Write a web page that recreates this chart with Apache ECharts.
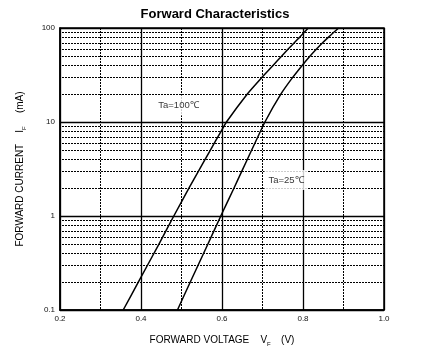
<!DOCTYPE html>
<html>
<head>
<meta charset="utf-8">
<script src="https://cdn.jsdelivr.net/npm/echarts@6/dist/echarts.min.js"></script>
<style>
html,body{margin:0;padding:0;background:#fff;}
#c{width:430px;height:358px;}
</style>
</head>
<body>
<div id="c"></div>
<script>
// Data (forward voltage V vs forward current mA)
const current = [0.1, 0.2, 0.5, 1, 2, 3, 5, 8, 10, 20, 30, 40, 50, 60, 70, 80, 90, 100];
const vf100 = [0.356, 0.394, 0.444, 0.481, 0.519, 0.542, 0.571, 0.598, 0.611, 0.663, 0.699, 0.726, 0.747, 0.764, 0.779, 0.792, 0.803, 0.813];
const current25 = [0.1, 0.2, 0.5, 1, 2, 3, 5, 10, 20, 30, 40, 50, 60, 70, 80, 90, 100];
const vf25 = [0.490, 0.522, 0.565, 0.597, 0.630, 0.649, 0.673, 0.706, 0.746, 0.775, 0.798, 0.817, 0.834, 0.849, 0.863, 0.876, 0.888];
const xTicks = ['0.2', '0.4', '0.6', '0.8', '1.0'];
const yTicks = ['0.1', '1', '10', '100'];
const minorY = [0.2, 0.3, 0.4, 0.5, 0.6, 0.7, 0.8, 0.9, 2, 3, 4, 5, 6, 7, 8, 9, 20, 30, 40, 50, 60, 70, 80, 90];
const labels = [
  {name: 'Ta=100℃', v: 0.4926, i: 15.0},
  {name: 'Ta=25℃', v: 0.758, i: 2.41}
];

const X_MIN = 0.2, X_MAX = 1.0;
const chart = echarts.init(document.getElementById('c'), null, {renderer: 'canvas'});
const FONT = '"Liberation Sans", Arial, sans-serif';

const option = {
  animation: false,
  backgroundColor: '#fff',
  title: {
    text: 'Forward Characteristics',
    left: 'center',
    top: 3,
    textStyle: {fontFamily: FONT, fontSize: 13, fontWeight: 'bold', color: '#000'}
  },
  grid: {left: 60, right: 46, top: 28, bottom: 48, show: true, borderColor: '#000', borderWidth: 1.5, backgroundColor: 'transparent'},
  xAxis: {
    type: 'value', min: X_MIN, max: X_MAX, interval: 0.2,
    name: '{n|FORWARD VOLTAGE    V}{s|F}{n|   (V)}',
    nameLocation: 'middle', nameGap: 25,
    nameTextStyle: {
      rich: {
        n: {fontFamily: FONT, fontSize: 10, color: '#000', verticalAlign: 'top'},
        s: {fontFamily: FONT, fontSize: 6, color: '#000', verticalAlign: 'top', padding: [6, 2, 0, 0]}
      }
    },
    axisLine: {show: true, lineStyle: {color: '#000', width: 1.5}},
    axisTick: {show: false},
    axisLabel: {
      fontFamily: FONT, fontSize: 8, color: '#111', margin: 5,
      formatter: (v) => xTicks[Math.round((v - X_MIN) / 0.2)] || ''
    },
    splitLine: {show: true, lineStyle: {color: '#000', width: 1.3}},
    minorTick: {show: false, splitNumber: 2},
    minorSplitLine: {show: true, lineStyle: {color: '#000', width: 1, type: [2, 1]}}
  },
  yAxis: {
    type: 'log', logBase: 10, min: 0.1, max: 100,
    name: '{n|FORWARD CURRENT    I}{s|F}{n|    (mA)}',
    nameLocation: 'middle', nameGap: 33, nameRotate: 90,
    nameTextStyle: {
      rich: {
        n: {fontFamily: FONT, fontSize: 10, color: '#000', verticalAlign: 'top'},
        s: {fontFamily: FONT, fontSize: 6, color: '#000', verticalAlign: 'top', padding: [6, 2, 0, 0]}
      }
    },
    axisLine: {show: true, lineStyle: {color: '#000', width: 1.5}},
    axisTick: {show: false},
    axisLabel: {
      fontFamily: FONT, fontSize: 8, color: '#111', margin: 5,
      formatter: (v) => {
        const k = Math.round(Math.log10(v)) + 1;
        return yTicks[k] !== undefined ? yTicks[k] : '';
      }
    },
    splitLine: {show: true, lineStyle: {color: '#000', width: 1.3}}
  },
  series: [
    {
      type: 'custom',
      z: 1,
      silent: true,
      data: minorY.map(v => [X_MIN, v]),
      encode: {x: 0, y: 1},
      renderItem: (params, api) => {
        const v = api.value(1);
        const p1 = api.coord([X_MIN, v]);
        const p2 = api.coord([X_MAX, v]);
        const y = Math.round(p1[1]) + 0.5;
        return {
          type: 'line',
          shape: {x1: p1[0] + 2, y1: y, x2: p2[0], y2: y},
          style: {stroke: '#000', lineWidth: 1, lineDash: [2, 1]},
          silent: true
        };
      }
    },
    {
      name: 'Ta=100',
      type: 'line',
      z: 5,
      showSymbol: false,
      smooth: 0.15,
      data: current.map((c, k) => [vf100[k], c]),
      lineStyle: {color: '#000', width: 1.5}
    },
    {
      name: 'Ta=25',
      type: 'line',
      z: 5,
      showSymbol: false,
      smooth: 0.15,
      data: current25.map((c, k) => [vf25[k], c]),
      lineStyle: {color: '#000', width: 1.5}
    },
    {
      type: 'scatter',
      z: 4,
      silent: true,
      symbolSize: 0,
      data: labels.map(l => ({value: [l.v, l.i], name: l.name})),
      label: {
        show: true,
        position: 'inside',
        formatter: (p) => p.name,
        fontFamily: FONT, fontSize: 9.5, color: '#000',
        backgroundColor: '#fff',
        padding: [5, 4]
      }
    }
  ]
};
chart.setOption(option);
</script>
</body>
</html>
